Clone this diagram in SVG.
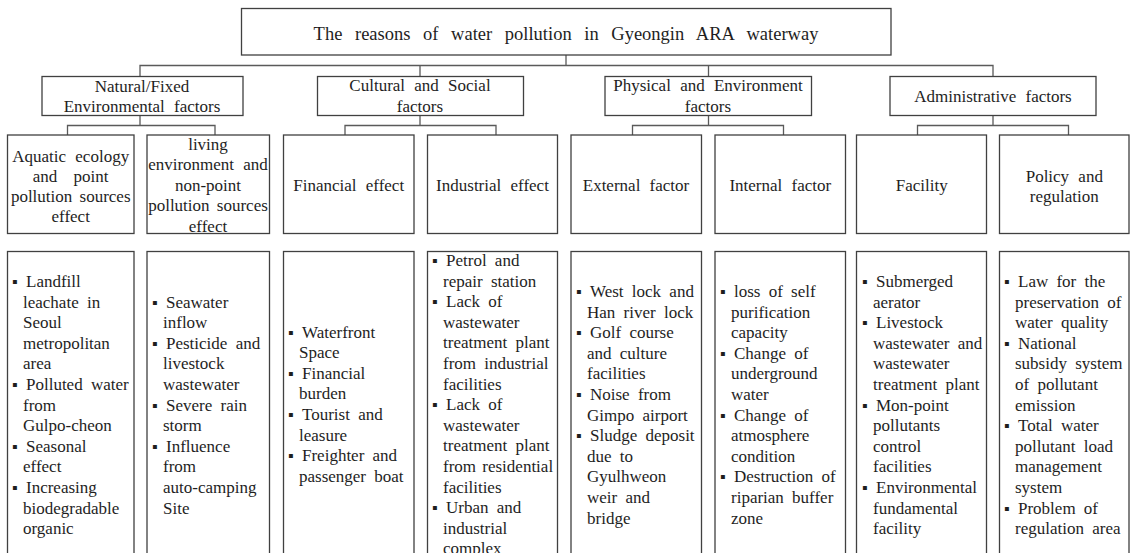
<svg xmlns="http://www.w3.org/2000/svg" width="1130" height="553" viewBox="0 0 1130 553">
<style>
.bx{fill:#fff;stroke:#404040;stroke-width:1.3}
.cn{fill:none;stroke:#5a5a5a;stroke-width:1.3}
text{font-family:"Liberation Serif","Times New Roman",serif;fill:#1e1e1e}
.t0{font-size:18.5px;word-spacing:8px;text-anchor:middle}
.t2{font-size:17px;word-spacing:5px;text-anchor:middle}
.t3{font-size:17px;word-spacing:5px;text-anchor:middle}
.li{font-size:17px;word-spacing:4px}
.bu{font-size:16px}
</style>
<rect width="1130" height="553" fill="#fff"/>
<g id="connectors">
<path class="cn" d="M566 55V65.5M140 76.5V65.5H993V76.5M420 65.5V76.5M708.5 65.5V76.5"/>
<path class="cn" d="M140 115.5V125.5M67.5 135V125.5H215V135"/>
<path class="cn" d="M420 115.5V125.5M345 135V125.5H496V135"/>
<path class="cn" d="M708.5 115.5V125.5M632.5 135V125.5H783.5V135"/>
<path class="cn" d="M993 115.5V125.5M917.5 135V125.5H1068.5V135"/>
</g>
<g id="title">
<rect class="bx" x="241.5" y="8.5" width="649.5" height="46.5"/>
<text class="t0" x="566" y="39.5">The reasons of water pollution in Gyeongin ARA waterway</text>
</g>
<g id="natural">
<rect class="bx" x="42" y="76.5" width="201" height="39"/>
<text class="t2" x="142" y="91.5">Natural/Fixed</text>
<text class="t2" x="142" y="112.3">Environmental factors</text>
</g>
<g id="cultural">
<rect class="bx" x="317.5" y="76.5" width="206" height="39"/>
<text class="t2" x="420" y="91.3">Cultural and Social</text>
<text class="t2" x="420" y="112.3">factors</text>
</g>
<g id="physical">
<rect class="bx" x="605" y="76.5" width="206.5" height="39"/>
<text class="t2" x="708" y="91.3">Physical and Environment</text>
<text class="t2" x="708" y="112.3">factors</text>
</g>
<g id="administrative">
<rect class="bx" x="890" y="76.5" width="206" height="39"/>
<text class="t2" x="993" y="101.7">Administrative factors</text>
</g>
<g id="aquatic">
<rect class="bx" x="7.5" y="135" width="126.5" height="98.5"/>
<text class="t3" x="70.7" y="161.5">Aquatic ecology</text>
<text class="t3" x="70.7" y="181.5" style="word-spacing:12px">and point</text>
<text class="t3" x="70.7" y="202" style="word-spacing:3px">pollution sources</text>
<text class="t3" x="70.7" y="222">effect</text>
</g>
<g id="living">
<rect class="bx" x="147" y="135" width="122.5" height="98.5"/>
<text class="t3" x="208" y="149.5">living</text>
<text class="t3" x="208" y="170">environment and</text>
<text class="t3" x="208" y="190.5">non-point</text>
<text class="t3" x="208" y="211" style="word-spacing:3px">pollution sources</text>
<text class="t3" x="208" y="231.5">effect</text>
</g>
<g id="financial">
<rect class="bx" x="283.5" y="135" width="130.5" height="98.5"/>
<text class="t3" x="348.7" y="191">Financial effect</text>
</g>
<g id="industrial">
<rect class="bx" x="427.5" y="135" width="130" height="98.5"/>
<text class="t3" x="492.5" y="191">Industrial effect</text>
</g>
<g id="external">
<rect class="bx" x="571" y="135" width="130.5" height="98.5"/>
<text class="t3" x="636" y="191">External factor</text>
</g>
<g id="internal">
<rect class="bx" x="715" y="135" width="130.5" height="98.5"/>
<text class="t3" x="780.3" y="191">Internal factor</text>
</g>
<g id="facility">
<rect class="bx" x="856.5" y="135" width="130" height="98.5"/>
<text class="t3" x="921.7" y="191">Facility</text>
</g>
<g id="policy">
<rect class="bx" x="999.5" y="135" width="129.5" height="98.5"/>
<text class="t3" x="1064.3" y="181.5">Policy and</text>
<text class="t3" x="1064.3" y="201.5">regulation</text>
</g>
<g id="aquatic-details">
<rect class="bx" x="7.5" y="251.5" width="126.5" height="320"/>
<text class="bu" x="12" y="287">▪</text><text class="bu" x="12" y="390">▪</text><text class="bu" x="12" y="451.8">▪</text><text class="bu" x="12" y="493">▪</text>
<text class="li"><tspan x="26" y="287">Landfill</tspan><tspan x="23" y="307.6">leachate in</tspan><tspan x="23" y="328.2">Seoul</tspan><tspan x="23" y="348.8">metropolitan</tspan><tspan x="23" y="369.4">area</tspan><tspan x="26" y="390">Polluted water</tspan><tspan x="23" y="410.6">from</tspan><tspan x="23" y="431.2">Gulpo-cheon</tspan><tspan x="26" y="451.8">Seasonal</tspan><tspan x="23" y="472.4">effect</tspan><tspan x="26" y="493">Increasing</tspan><tspan x="23" y="513.6">biodegradable</tspan><tspan x="23" y="534.2">organic</tspan></text>
</g>
<g id="living-details">
<rect class="bx" x="147" y="251.5" width="122.5" height="320"/>
<text class="bu" x="152" y="307.6">▪</text><text class="bu" x="152" y="348.8">▪</text><text class="bu" x="152" y="410.6">▪</text><text class="bu" x="152" y="451.8">▪</text>
<text class="li"><tspan x="166" y="307.6">Seawater</tspan><tspan x="163" y="328.2">inflow</tspan><tspan x="166" y="348.8">Pesticide and</tspan><tspan x="163" y="369.4">livestock</tspan><tspan x="163" y="390">wastewater</tspan><tspan x="166" y="410.6">Severe rain</tspan><tspan x="163" y="431.2">storm</tspan><tspan x="166" y="451.8">Influence</tspan><tspan x="163" y="472.4">from</tspan><tspan x="163" y="493">auto-camping</tspan><tspan x="163" y="513.6">Site</tspan></text>
</g>
<g id="financial-details">
<rect class="bx" x="283.5" y="251.5" width="130.5" height="320"/>
<text class="bu" x="288" y="337.5">▪</text><text class="bu" x="288" y="378.7">▪</text><text class="bu" x="288" y="419.9">▪</text><text class="bu" x="288" y="461.1">▪</text>
<text class="li"><tspan x="302" y="337.5">Waterfront</tspan><tspan x="299" y="358.1">Space</tspan><tspan x="302" y="378.7">Financial</tspan><tspan x="299" y="399.3">burden</tspan><tspan x="302" y="419.9">Tourist and</tspan><tspan x="299" y="440.5">leasure</tspan><tspan x="302" y="461.1">Freighter and</tspan><tspan x="299" y="481.7">passenger boat</tspan></text>
</g>
<g id="industrial-details">
<rect class="bx" x="427.5" y="251.5" width="130" height="320"/>
<text class="bu" x="432" y="266">▪</text><text class="bu" x="432" y="307.2">▪</text><text class="bu" x="432" y="410.2">▪</text><text class="bu" x="432" y="513.2">▪</text>
<text class="li"><tspan x="446" y="266">Petrol and</tspan><tspan x="443" y="286.6">repair station</tspan><tspan x="446" y="307.2">Lack of</tspan><tspan x="443" y="327.8">wastewater</tspan><tspan x="443" y="348.4">treatment plant</tspan><tspan x="443" y="369">from industrial</tspan><tspan x="443" y="389.6">facilities</tspan><tspan x="446" y="410.2">Lack of</tspan><tspan x="443" y="430.8">wastewater</tspan><tspan x="443" y="451.4">treatment plant</tspan><tspan x="443" y="472" style="word-spacing:2px">from residential</tspan><tspan x="443" y="492.6">facilities</tspan><tspan x="446" y="513.2">Urban and</tspan><tspan x="443" y="533.8">industrial</tspan><tspan x="443" y="554.4">complex</tspan></text>
</g>
<g id="external-details">
<rect class="bx" x="571" y="251.5" width="130.5" height="320"/>
<text class="bu" x="576" y="297">▪</text><text class="bu" x="576" y="338.2">▪</text><text class="bu" x="576" y="400">▪</text><text class="bu" x="576" y="441.2">▪</text>
<text class="li"><tspan x="590" y="297">West lock and</tspan><tspan x="587" y="317.6">Han river lock</tspan><tspan x="590" y="338.2">Golf course</tspan><tspan x="587" y="358.8">and culture</tspan><tspan x="587" y="379.4">facilities</tspan><tspan x="590" y="400">Noise from</tspan><tspan x="587" y="420.6">Gimpo airport</tspan><tspan x="590" y="441.2">Sludge deposit</tspan><tspan x="587" y="461.8">due to</tspan><tspan x="587" y="482.4">Gyulhweon</tspan><tspan x="587" y="503">weir and</tspan><tspan x="587" y="523.6">bridge</tspan></text>
</g>
<g id="internal-details">
<rect class="bx" x="715" y="251.5" width="130.5" height="320"/>
<text class="bu" x="720" y="297">▪</text><text class="bu" x="720" y="358.8">▪</text><text class="bu" x="720" y="420.6">▪</text><text class="bu" x="720" y="482.4">▪</text>
<text class="li"><tspan x="734" y="297">loss of self</tspan><tspan x="731" y="317.6">purification</tspan><tspan x="731" y="338.2">capacity</tspan><tspan x="734" y="358.8">Change of</tspan><tspan x="731" y="379.4">underground</tspan><tspan x="731" y="400">water</tspan><tspan x="734" y="420.6">Change of</tspan><tspan x="731" y="441.2">atmosphere</tspan><tspan x="731" y="461.8">condition</tspan><tspan x="734" y="482.4">Destruction of</tspan><tspan x="731" y="503">riparian buffer</tspan><tspan x="731" y="523.6">zone</tspan></text>
</g>
<g id="facility-details">
<rect class="bx" x="856.5" y="251.5" width="130" height="320"/>
<text class="bu" x="862" y="287">▪</text><text class="bu" x="862" y="328.2">▪</text><text class="bu" x="862" y="410.6">▪</text><text class="bu" x="862" y="493">▪</text>
<text class="li"><tspan x="876" y="287">Submerged</tspan><tspan x="873" y="307.6">aerator</tspan><tspan x="876" y="328.2">Livestock</tspan><tspan x="873" y="348.8">wastewater and</tspan><tspan x="873" y="369.4">wastewater</tspan><tspan x="873" y="390">treatment plant</tspan><tspan x="876" y="410.6">Mon-point</tspan><tspan x="873" y="431.2">pollutants</tspan><tspan x="873" y="451.8">control</tspan><tspan x="873" y="472.4">facilities</tspan><tspan x="876" y="493">Environmental</tspan><tspan x="873" y="513.6">fundamental</tspan><tspan x="873" y="534.2">facility</tspan></text>
</g>
<g id="policy-details">
<rect class="bx" x="999.5" y="251.5" width="129.5" height="320"/>
<text class="bu" x="1004" y="287">▪</text><text class="bu" x="1004" y="348.8">▪</text><text class="bu" x="1004" y="431.2">▪</text><text class="bu" x="1004" y="513.6">▪</text>
<text class="li"><tspan x="1018" y="287">Law for the</tspan><tspan x="1015" y="307.6">preservation of</tspan><tspan x="1015" y="328.2">water quality</tspan><tspan x="1018" y="348.8">National</tspan><tspan x="1015" y="369.4">subsidy system</tspan><tspan x="1015" y="390">of pollutant</tspan><tspan x="1015" y="410.6">emission</tspan><tspan x="1018" y="431.2">Total water</tspan><tspan x="1015" y="451.8">pollutant load</tspan><tspan x="1015" y="472.4">management</tspan><tspan x="1015" y="493">system</tspan><tspan x="1018" y="513.6">Problem of</tspan><tspan x="1015" y="534.2">regulation area</tspan></text>
</g>
</svg>
